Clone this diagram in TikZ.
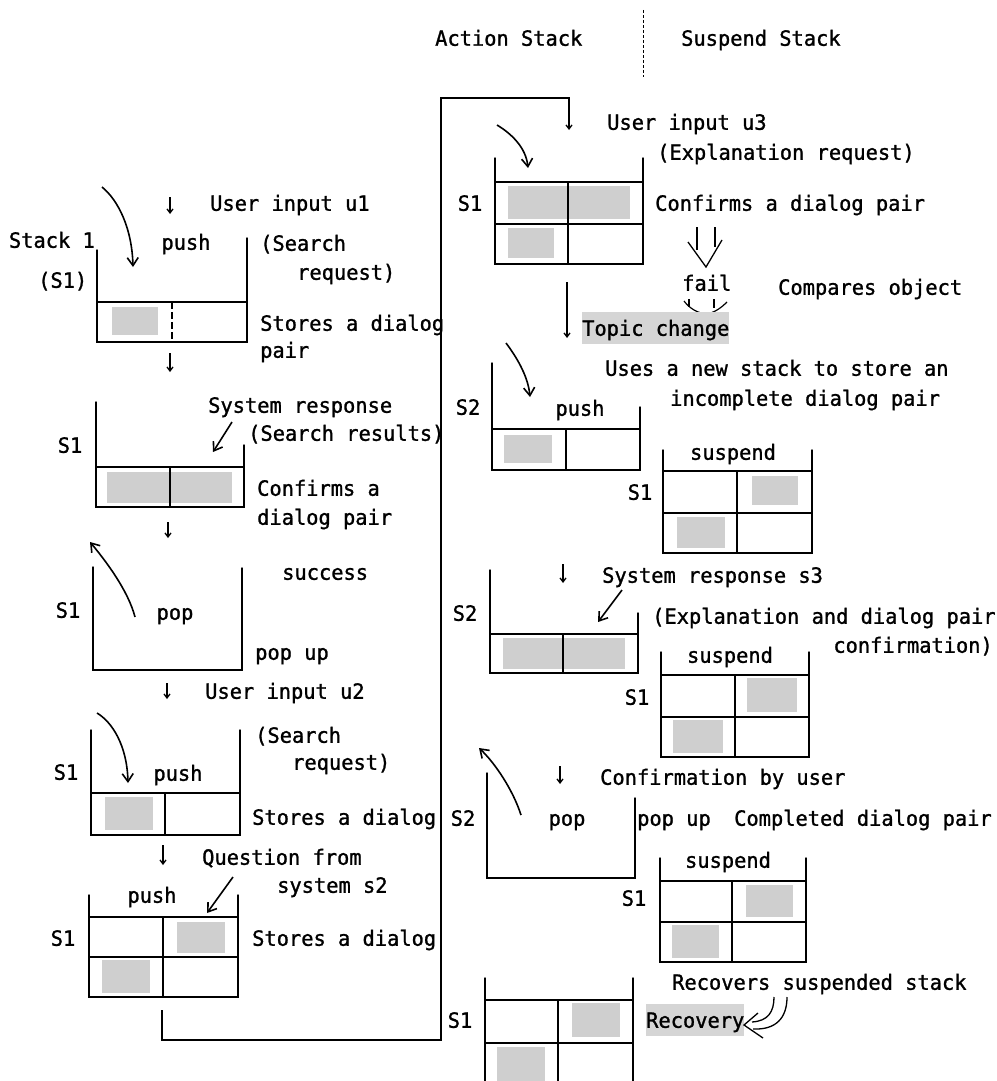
\documentclass[tikz,border=0pt]{standalone}
\usepackage{fontspec}
\newfontfamily\monofam[FakeStretch=0.97,FakeBold=1.2]{DejaVu Sans Mono}
\usetikzlibrary{arrows.meta}
\begin{document}
\begin{tikzpicture}[x=1pt,y=-1pt,
  lbl/.style={font=\monofam\fontsize{21}{25}\selectfont, inner sep=0pt, text height=15.5pt, text depth=0pt, anchor=west},
  ctr/.style={lbl, anchor=center},
  wall/.style={line width=1.5pt, line cap=round},
  shelf/.style={line width=2.2pt},
  divl/.style={line width=1.4pt},
  shade/.style={fill=gray!38, draw=none},
  hilite/.style={lbl, fill=gray!33, minimum height=32pt},
  arr/.style={line width=1.6pt, -{Straight Barb[length=8pt,width=11pt]}},
  tick/.style={line width=1.3pt, -{Straight Barb[length=4pt,width=6pt]}},
  conn/.style={line width=1.6pt}
]
\useasboundingbox (0,0) rectangle (996,1081);

% ---------------- headers ----------------
\node[lbl] (hAction) at (435,38) {Action Stack};
\node[lbl] (hSusp) at (681,38) {Suspend Stack};
\draw[line width=0.8pt, dash pattern=on 3pt off 2pt] (643,10) -- (643,77);

% ---------------- left column ----------------
% step 1
\coordinate (a1s) at (170,197); \coordinate (a1e) at (170,214);
\draw[tick] (a1s) -- (a1e);
\node[lbl] (u1) at (210,203) {User input u1};
\node[lbl, anchor=east] (stk1) at (95,240) {Stack 1};
\node[lbl] (s1a) at (38,280) {(S1)};
\node[ctr] (push1) at (186,242) {push};
\node[lbl] (sr1) at (260,243) {(Search};
\node[lbl] (sr1b) at (297,272) {request)};
\fill[shade] (112,307) rectangle (158,335);
\draw[wall] (97,250) -- (97,342) -- (247,342) -- (247,238);
\draw[shelf] (97,302) -- (247,302);
\draw[divl, dash pattern=on 7pt off 3pt] (172,302) -- (172,342);
\coordinate (c1s) at (102,187); \coordinate (c1e) at (133,267);
\draw[arr] (c1s) .. controls (118,200) and (132,228) .. (c1e);
\node[lbl] (st1) at (260,323) {Stores a dialog};
\node[lbl] (st1b) at (260,350) {pair};
\coordinate (a2s) at (170,353); \coordinate (a2e) at (170,372);
\draw[tick] (a2s) -- (a2e);

% step 2
\node[lbl] (sys1) at (208,405) {System response};
\node[lbl] (sys1b) at (248,433) {(Search results)};
\node[ctr] (l2) at (70,445) {S1};
\fill[shade] (107,472) rectangle (232,503);
\draw[wall] (96,402) -- (96,507) -- (244,507) -- (244,445);
\draw[shelf] (96,467) -- (244,467);
\draw[divl] (170,467) -- (170,507);
\coordinate (d1s) at (232,422); \coordinate (d1e) at (213,452);
\draw[arr] (d1s) -- (d1e);
\node[lbl] (cf1) at (257,488) {Confirms a};
\node[lbl] (cf1b) at (257,517) {dialog pair};
\coordinate (a3s) at (168,522); \coordinate (a3e) at (168,538);
\draw[tick] (a3s) -- (a3e);

% step 3
\node[lbl] (succ) at (282,572) {success};
\node[ctr] (l3) at (68,610) {S1};
\node[ctr] (pop1) at (175,612) {pop};
\draw[wall] (93,567) -- (93,670) -- (242,670) -- (242,568);
\coordinate (p1s) at (135,617); \coordinate (p1e) at (90,542);
\draw[arr] (p1s) .. controls (128,590) and (105,560) .. (p1e);
\node[lbl] (popup1) at (255,652) {pop up};
\coordinate (a4s) at (167,683); \coordinate (a4e) at (167,699);
\draw[tick] (a4s) -- (a4e);
\node[lbl] (u2) at (205,691) {User input u2};

% step 4
\node[lbl] (sr2) at (255,735) {(Search};
\node[lbl] (sr2b) at (292,762) {request)};
\node[ctr] (l4) at (66,772) {S1};
\node[ctr] (push2) at (178,773) {push};
\fill[shade] (105,797) rectangle (153,830);
\draw[wall] (91,730) -- (91,835) -- (240,835) -- (240,730);
\draw[shelf] (91,793) -- (240,793);
\draw[divl] (165,793) -- (165,835);
\coordinate (c2s) at (97,713); \coordinate (c2e) at (128,783);
\draw[arr] (c2s) .. controls (112,722) and (127,745) .. (c2e);
\node[lbl] (st2) at (252,817) {Stores a dialog};
\coordinate (a5s) at (163,845); \coordinate (a5e) at (163,865);
\draw[tick] (a5s) -- (a5e);
\node[lbl] (q1) at (202,857) {Question from};
\node[lbl] (q1b) at (277,885) {system s2};

% step 5
\node[ctr] (push3) at (152,895) {push};
\coordinate (d2s) at (233,877); \coordinate (d2e) at (207,913);
\draw[arr] (d2s) -- (d2e);
\node[ctr] (l5) at (63,938) {S1};
\fill[shade] (177,922) rectangle (225,953);
\fill[shade] (102,960) rectangle (150,993);
\draw[wall] (89,895) -- (89,997) -- (238,997) -- (238,895);
\draw[shelf] (89,917) -- (238,917);
\draw[shelf] (89,957) -- (238,957);
\draw[divl] (163,917) -- (163,997);
\node[lbl] (st3) at (252,938) {Stores a dialog};

% connector between columns
\coordinate (k0) at (162,1010);
\coordinate (k1) at (441,98);
\coordinate (k2) at (569,130);
\draw[conn] (k0) |- (441,1040) -- (k1) -| (569,112);
\draw[tick] (569,110) -- (k2);

% ---------------- right column ----------------
% step 6
\node[lbl] (u3) at (607,122) {User input u3};
\node[lbl] (u3b) at (657,152) {(Explanation request)};
\node[ctr] (r6) at (470,203) {S1};
\fill[shade] (508,186) rectangle (630,219);
\fill[shade] (508,228) rectangle (554,258);
\draw[wall] (495,158) -- (495,264) -- (643,264) -- (643,158);
\draw[shelf] (495,182) -- (643,182);
\draw[shelf] (495,224) -- (643,224);
\draw[divl] (568,182) -- (568,264);
\coordinate (c3s) at (497,125); \coordinate (c3e) at (528,168);
\draw[arr] (c3s) .. controls (512,134) and (526,148) .. (c3e);
\node[lbl] (cf2) at (655,203) {Confirms a dialog pair};

% fail branch
\draw[line width=1.3pt] (697,227) -- (697,250);
\draw[line width=1.3pt] (715,227) -- (715,247);
\draw[line width=1.3pt] (688,242) -- (706,267) -- (722,240);
\node[lbl] (fail) at (682,283) {fail};
\node[lbl] (cmp) at (778,287) {Compares object};
\draw[line width=1.2pt] (684,301) .. controls (690,309) and (698,313) .. (706,314) .. controls (714,313) and (721,308) .. (727,302);
\draw[line width=1.2pt] (689,299) -- (689,307);
\draw[line width=1.2pt] (714,299) -- (714,308);
\coordinate (a6s) at (567,282); \coordinate (a6e) at (567,338);
\draw[tick] (a6s) -- (a6e);
\node[hilite] (topic) at (582,328) {Topic change};

% step 7
\node[lbl] (uses) at (605,368) {Uses a new stack to store an};
\node[lbl] (usesb) at (670,398) {incomplete dialog pair};
\node[ctr] (r7) at (468,407) {S2};
\node[ctr] (push4) at (580,408) {push};
\fill[shade] (504,435) rectangle (552,463);
\draw[wall] (492,363) -- (492,470) -- (640,470) -- (640,407);
\draw[shelf] (492,429) -- (640,429);
\draw[divl] (566,429) -- (566,470);
\coordinate (c4s) at (506,343); \coordinate (c4e) at (530,397);
\draw[arr] (c4s) .. controls (515,355) and (528,375) .. (c4e);

% suspend A
\node[ctr] (susA) at (733,452) {suspend};
\node[ctr] (rA) at (640,492) {S1};
\fill[shade] (752,476) rectangle (798,505);
\fill[shade] (677,517) rectangle (725,548);
\draw[wall] (663,450) -- (663,553) -- (812,553) -- (812,450);
\draw[shelf] (663,471) -- (812,471);
\draw[shelf] (663,513) -- (812,513);
\draw[divl] (737,471) -- (737,553);

% step 8
\coordinate (a7s) at (563,564); \coordinate (a7e) at (563,583);
\draw[tick] (a7s) -- (a7e);
\node[lbl] (s3) at (602,575) {System response s3};
\node[ctr] (r8) at (465,613) {S2};
\fill[shade] (503,638) rectangle (625,669);
\draw[wall] (490,570) -- (490,673) -- (638,673) -- (638,613);
\draw[shelf] (490,634) -- (638,634);
\draw[divl] (563,634) -- (563,673);
\coordinate (d3s) at (622,590); \coordinate (d3e) at (598,622);
\draw[arr] (d3s) -- (d3e);
\node[lbl] (expl) at (652,616) {(Explanation and dialog pair};
\node[lbl, anchor=east] (explb) at (993,645) {confirmation)};

% suspend B
\node[ctr] (susB) at (730,655) {suspend};
\node[ctr] (rB) at (637,697) {S1};
\fill[shade] (747,678) rectangle (797,712);
\fill[shade] (673,720) rectangle (723,753);
\draw[wall] (661,652) -- (661,757) -- (809,757) -- (809,652);
\draw[shelf] (661,675) -- (809,675);
\draw[shelf] (661,717) -- (809,717);
\draw[divl] (735,675) -- (735,757);

% step 9
\coordinate (a8s) at (560,766); \coordinate (a8e) at (560,784);
\draw[tick] (a8s) -- (a8e);
\node[lbl] (conf) at (600,777) {Confirmation by user};
\node[ctr] (r9) at (463,818) {S2};
\node[ctr] (pop2) at (567,818) {pop};
\draw[wall] (487,773) -- (487,878) -- (635,878) -- (635,798);
\coordinate (p2s) at (521,815); \coordinate (p2e) at (479,748);
\draw[arr] (p2s) .. controls (513,790) and (495,763) .. (p2e);
\node[lbl] (popup2) at (637,818) {pop up};
\node[lbl] (compl) at (734,818) {Completed dialog pair};

% suspend C
\node[ctr] (susC) at (728,860) {suspend};
\node[ctr] (rC) at (634,898) {S1};
\fill[shade] (746,885) rectangle (793,917);
\fill[shade] (672,925) rectangle (719,958);
\draw[wall] (660,858) -- (660,962) -- (806,962) -- (806,858);
\draw[shelf] (660,881) -- (806,881);
\draw[shelf] (660,922) -- (806,922);
\draw[divl] (732,881) -- (732,962);

% step 10
\node[lbl] (recs) at (672,982) {Recovers suspended stack};
\node[hilite] (recov) at (646,1020) {Recovery};
\coordinate (rv1) at (774,997); \coordinate (rv2) at (787,997);
\coordinate (rvt) at (744,1025);
\draw[line width=1.3pt] (rv1) .. controls (774,1012) and (768,1021) .. (752,1022);
\draw[line width=1.3pt] (rv2) .. controls (787,1018) and (776,1030) .. (753,1029);
\draw[line width=1.3pt] (758,1013) -- (rvt) -- (763,1038);
\node[ctr] (r10) at (460,1020) {S1};
\fill[shade] (572,1003) rectangle (620,1037);
\fill[shade] (497,1047) rectangle (545,1081);
\draw[wall] (485,978) -- (485,1090);
\draw[wall] (633,978) -- (633,1090);
\draw[shelf] (485,1000) -- (633,1000);
\draw[shelf] (485,1043) -- (633,1043);
\draw[divl] (558,1000) -- (558,1090);
\end{tikzpicture}
\end{document}
